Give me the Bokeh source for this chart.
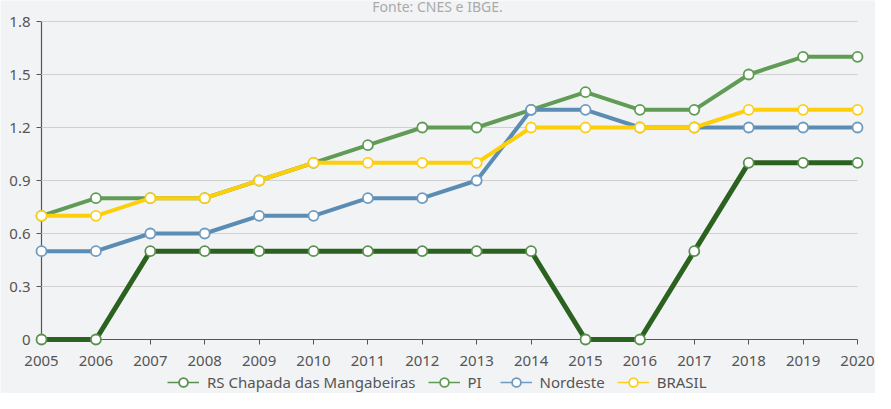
from bokeh.plotting import figure
from bokeh.models import Range1d, FixedTicker, Legend, LegendItem, Label
from bokeh.embed import file_html
from bokeh.resources import INLINE

years = [2005, 2006, 2007, 2008, 2009, 2010, 2011, 2012, 2013, 2014, 2015, 2016, 2017, 2018, 2019, 2020]
rs_chapada = [0, 0, 0.5, 0.5, 0.5, 0.5, 0.5, 0.5, 0.5, 0.5, 0, 0, 0.5, 1.0, 1.0, 1.0]
pi = [0.7, 0.8, 0.8, 0.8, 0.9, 1.0, 1.1, 1.2, 1.2, 1.3, 1.4, 1.3, 1.3, 1.5, 1.6, 1.6]
nordeste = [0.5, 0.5, 0.6, 0.6, 0.7, 0.7, 0.8, 0.8, 0.9, 1.3, 1.3, 1.2, 1.2, 1.2, 1.2, 1.2]
brasil = [0.7, 0.7, 0.8, 0.8, 0.9, 1.0, 1.0, 1.0, 1.0, 1.2, 1.2, 1.2, 1.2, 1.3, 1.3, 1.3]
y_ticks = [0, 0.3, 0.6, 0.9, 1.2, 1.5, 1.8]
source_note = "Fonte: CNES e IBGE."

# name, values, line colour, marker/legend colour, line width
series = [
    ("RS Chapada das Mangabeiras", rs_chapada, "#2c621f", "#5b9150", 5),
    ("PI", pi, "#609c55", "#609c55", 4),
    ("Nordeste", nordeste, "#5b8cb3", "#6f9bc0", 4),
    ("BRASIL", brasil, "#fccf0a", "#fcd01a", 4),
]

FONT = "Noto Sans"
BG = "#f2f3f5"
AXIS = "#555555"
NAN = float("nan")

# The frame fills the whole figure; both axes are fixed at the origin inside
# it, the source note sits above the plot and the legend below the x axis.
p = figure(width=875, height=393, output_backend="svg", toolbar_location=None,
           x_range=Range1d(years[0] - 0.7537, years[-1] + 0.3309),
           y_range=Range1d(-0.3056, y_ticks[-1] + 0.1189),
           min_border_left=0, min_border_right=0, min_border_top=0, min_border_bottom=0)
p.background_fill_color = BG
p.border_fill_color = BG
p.outline_line_color = None
p.title.text = ""
p.title.visible = False

p.add_layout(Label(x=(years[0] + years[-1]) / 2, y=y_ticks[-1], x_offset=-12, y_offset=15,
                   text=source_note, text_align="center", text_baseline="middle",
                   text_color="#aaaaaa", text_font=FONT, text_font_size="14px"))

p.xaxis.ticker = FixedTicker(ticks=years)
p.xaxis.fixed_location = y_ticks[0]
p.xaxis.bounds = (years[0], years[-1])
p.xaxis.major_label_standoff = 11

p.yaxis.ticker = FixedTicker(ticks=y_ticks)
p.yaxis.fixed_location = years[0]
p.yaxis.bounds = (y_ticks[0], y_ticks[-1])
p.yaxis.major_label_overrides = {0: "0"}
p.yaxis.major_label_standoff = 6

for ax in (p.xaxis, p.yaxis):
    ax.level = "underlay"
    ax.axis_line_color = AXIS
    ax.axis_line_width = 1.2
    ax.major_tick_in = 0
    ax.major_tick_out = 5
    ax.major_tick_line_color = AXIS
    ax.minor_tick_line_color = None
    ax.major_label_text_color = "#555555"
    ax.major_label_text_font = FONT
    ax.major_label_text_font_size = "15px"

p.xgrid.grid_line_color = None
p.ygrid.grid_line_color = None

# horizontal grid lines between the first and last year
p.segment(x0=years[0], x1=years[-1], y0=y_ticks[1:], y1=y_ticks[1:],
          line_color="#d0d0d0", line_width=1)

items = []
for name, vals, color, mcolor, lw in series:
    p.line(years, vals, line_color=color, line_width=lw)
    p.scatter(years, vals, size=10, fill_color="white", line_color=mcolor, line_width=1.8)
    # legend-only icons (thin line + large hollow circle), nothing drawn in the plot
    lg_line = p.line(x=[NAN], y=[NAN], line_color=mcolor, line_width=1.5)
    lg_dot = p.scatter(x=[NAN], y=[NAN], size=12, fill_color="white", line_color=mcolor, line_width=1.8)
    items.append(LegendItem(label=name, renderers=[lg_line, lg_dot]))

legend = Legend(items=items, orientation="horizontal", location=(167, 0),
                background_fill_alpha=0, border_line_color=None,
                label_text_font=FONT, label_text_font_size="15px", label_text_color="#555555",
                glyph_width=32, glyph_height=22, spacing=12, padding=0, margin=0,
                label_standoff=8)
p.add_layout(legend)

open("out.html", "w").write(file_html(p, INLINE))
